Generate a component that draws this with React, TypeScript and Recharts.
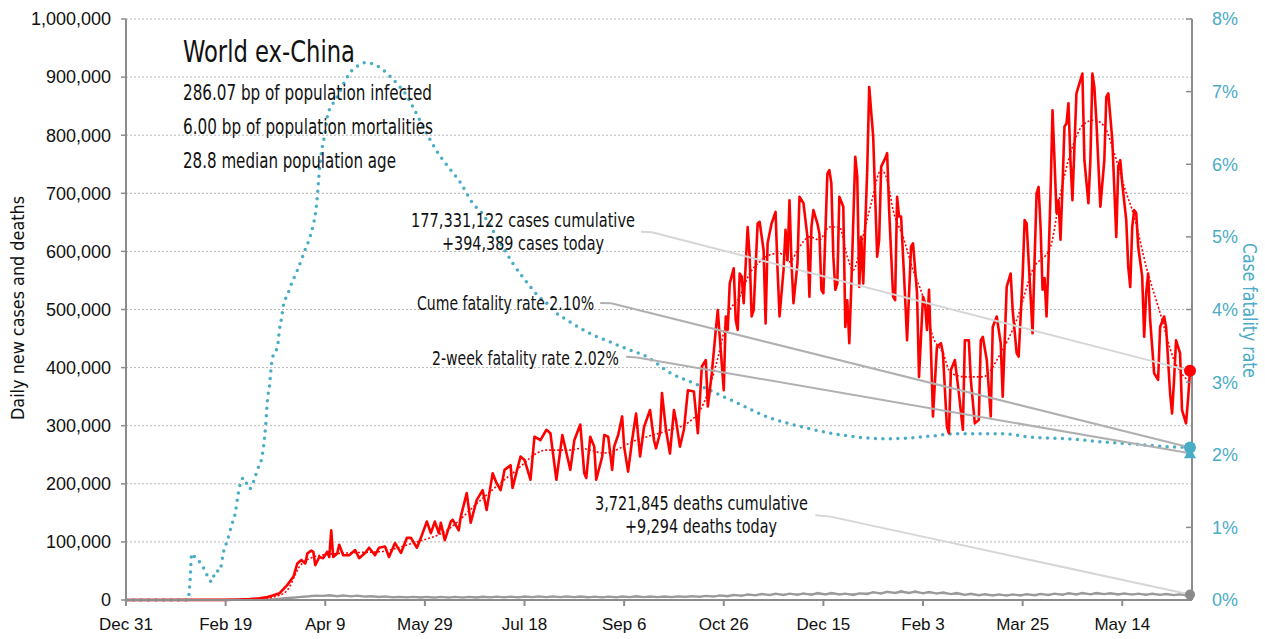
import React from 'react';
import {
  ComposedChart,
  Line,
  Scatter,
  XAxis,
  YAxis,
  CartesianGrid,
  ReferenceLine,
  ReferenceDot,
} from 'recharts';

// day 0 = Dec 31 2019; cases/deaths in thousands, fatality rate in %
const xTickDays = [0, 50, 100, 150, 200, 250, 300, 350, 400, 450, 500];
const xTickLabels = ['Dec 31', 'Feb 19', 'Apr 9', 'May 29', 'Jul 18', 'Sep 6', 'Oct 26', 'Dec 15', 'Feb 3', 'Mar 25', 'May 14'];
const leftTicks = [0, 100, 200, 300, 400, 500, 600, 700, 800, 900, 1000];
const rightTicks = [0, 1, 2, 3, 4, 5, 6, 7, 8];

const lastDay = 534;
const casesToday = 394.389;
const deathsToday = 9.294;
const cumeRate = 2.1;
const twoWeekRate = 2.02;

const dailyCases: [number, number][] = [
  [0, 0], [50, 0.3], [57, 0.8], [62, 1.5], [67, 3], [71, 5], [74, 8], [77, 11.5], [81, 26], [84, 40], [86, 63], [88, 69],
  [90, 63], [91, 80], [93, 85], [94, 83], [95, 60], [97, 74], [99, 72], [101, 83], [102, 74], [103, 120], [104, 74],
  [106, 80], [107, 95], [109, 77], [112, 77], [115, 86], [117, 72], [120, 81], [122, 90], [125, 77], [127, 90], [130, 92],
  [132, 74], [135, 98], [138, 81], [141, 107], [143, 107], [146, 90], [148, 107], [151, 135], [153, 115], [155, 135],
  [157, 115], [158, 133], [160, 103], [163, 135], [164, 138], [167, 120], [168, 143], [171, 184], [173, 133], [176, 172],
  [179, 189], [181, 155], [184, 218], [186, 201], [188, 189], [190, 224], [193, 232], [194, 193], [198, 247], [200, 241],
  [203, 207], [205, 281], [208, 275], [211, 293], [213, 287], [216, 207], [219, 284], [223, 224], [225, 275], [228, 302],
  [230, 218], [231, 210], [233, 281], [235, 264], [236, 207], [239, 247], [240, 284], [242, 281], [244, 224], [245, 264],
  [247, 284], [249, 316], [250, 264], [252, 221], [254, 275], [256, 321], [258, 247], [260, 298], [263, 327], [265, 275],
  [266, 261], [268, 287], [269, 356], [271, 293], [273, 252], [275, 327], [276, 310], [278, 264], [280, 293], [282, 361],
  [285, 359], [287, 287], [289, 402], [291, 413], [292, 333], [294, 390], [296, 465], [297, 499], [300, 361], [301, 488],
  [302, 465], [303, 545], [305, 571], [306, 482], [307, 465], [308, 562], [309, 557], [310, 511], [312, 642], [313, 591],
  [314, 488], [315, 499], [317, 648], [318, 651], [320, 602], [321, 476], [322, 614], [324, 648], [326, 668], [327, 568],
  [328, 488], [330, 568], [331, 637], [332, 585], [333, 688], [334, 580], [335, 511], [337, 580], [338, 694], [340, 683],
  [342, 625], [343, 522], [344, 642], [345, 671], [347, 648], [348, 631], [349, 534], [350, 528], [352, 734], [353, 740],
  [354, 717], [355, 591], [356, 534], [357, 545], [358, 694], [360, 677], [361, 470], [362, 516], [363, 442], [364, 539],
  [366, 763], [367, 729], [368, 539], [369, 625], [370, 545], [372, 740], [373, 883], [375, 797], [377, 591], [378, 620],
  [379, 746], [381, 760], [382, 769], [383, 671], [385, 522], [386, 516], [387, 694], [388, 660], [389, 660], [390, 591],
  [391, 522], [392, 447], [394, 608], [395, 614], [397, 528], [398, 384], [399, 453], [400, 522], [401, 511], [402, 465],
  [403, 534], [404, 430], [405, 316], [407, 436], [409, 442], [410, 425], [412, 298], [413, 287], [414, 396], [416, 413],
  [418, 356], [420, 293], [421, 447], [423, 447], [424, 379], [426, 304], [428, 310], [429, 447], [430, 453], [432, 413],
  [434, 316], [435, 470], [437, 488], [439, 442], [440, 350], [442, 539], [444, 562], [445, 499], [447, 425], [448, 419],
  [450, 557], [451, 654], [452, 648], [453, 585], [455, 459], [456, 585], [457, 700], [458, 711], [459, 642], [460, 534],
  [461, 554], [462, 488], [463, 585], [464, 700], [465, 843], [466, 757], [467, 666], [468, 688], [469, 620], [470, 711],
  [471, 815], [472, 820], [473, 855], [474, 757], [475, 688], [476, 780], [477, 872], [479, 895], [480, 906], [481, 757],
  [483, 683], [484, 757], [485, 906], [486, 883], [487, 826], [489, 677], [491, 757], [492, 866], [493, 872], [495, 792],
  [497, 625], [498, 746], [499, 757], [500, 717], [502, 654], [503, 574], [504, 539], [505, 642], [506, 671], [507, 666],
  [508, 608], [510, 557], [511, 453], [512, 528], [513, 562], [514, 482], [516, 390], [518, 379], [519, 470], [521, 488],
  [522, 470], [524, 356], [525, 321], [526, 379], [527, 447], [529, 425], [530, 327], [532, 304], [533, 345],
  [lastDay, casesToday],
];

const avgCases: [number, number][] = [
  [0, 0], [60, 0.5], [70, 3], [77, 8], [81, 17], [87, 57], [94, 74], [100, 78], [111, 81], [127, 83], [144, 98],
  [161, 120], [178, 172], [194, 218], [211, 258], [223, 258], [228, 261], [240, 253], [256, 275], [273, 293], [282, 305],
  [290, 339], [298, 430], [302, 490], [308, 522], [313, 562], [318, 582], [323, 594], [328, 597], [333, 582], [338, 608],
  [343, 625], [348, 620], [353, 642], [358, 642], [362, 591], [365, 568], [369, 614], [374, 683], [379, 740], [382, 723],
  [385, 671], [390, 625], [395, 568], [400, 522], [405, 453], [410, 425], [414, 390], [422, 384], [430, 384], [439, 425],
  [447, 482], [455, 568], [464, 608], [469, 700], [474, 769], [481, 820], [486, 826], [491, 815], [496, 769], [501, 711],
  [506, 660], [512, 574], [519, 494], [526, 413], [lastDay, 375],
];

const dailyDeaths: [number, number][] = [
  [0, 0], [60, 0.1], [65, 0.3], [70, 0.8], [75, 1.6], [80, 3], [85, 4.5], [88, 5.5], [92, 6.5], [95, 7.5], [99, 7],
  [102, 8.5], [106, 6.5], [109, 7.8], [113, 6.2], [116, 7.5], [120, 5.8], [123, 6.8], [127, 5.2], [130, 6.2], [134, 4.6],
  [137, 5.5], [141, 4.4], [144, 5.3], [148, 4.3], [151, 5.2], [155, 4.2], [158, 5.3], [162, 4.2], [165, 5.4], [169, 4.2],
  [172, 5.5], [176, 4.3], [179, 5.6], [183, 4.4], [186, 5.7], [190, 4.5], [193, 5.8], [197, 4.6], [200, 6], [204, 4.8],
  [207, 6.2], [211, 5], [214, 6.3], [218, 4.9], [221, 6.2], [225, 4.8], [228, 6], [232, 4.7], [235, 5.8], [239, 4.6],
  [242, 5.8], [246, 4.7], [249, 6], [253, 5], [256, 6.4], [260, 5], [263, 6], [267, 4.8], [270, 6], [274, 5], [277, 6.2],
  [281, 5.3], [284, 6.6], [288, 5.5], [291, 7], [295, 5.8], [298, 7.8], [302, 6.5], [305, 8.8], [309, 7.2], [312, 9.8],
  [316, 8], [319, 10.5], [323, 8.5], [326, 10.8], [330, 8.5], [333, 11], [337, 8.8], [340, 11.5], [344, 9], [347, 12],
  [351, 9.5], [354, 12.2], [358, 9.5], [361, 11], [365, 8.5], [368, 11.5], [372, 10], [375, 13.5], [379, 11], [382, 14.5],
  [386, 12], [389, 15], [393, 12], [396, 14.8], [400, 11.5], [403, 14], [407, 11], [410, 13], [414, 10], [417, 12],
  [421, 9], [424, 10.8], [428, 8.2], [431, 10], [435, 7.8], [438, 9.5], [442, 7.5], [445, 9.5], [449, 7.8], [452, 10],
  [456, 8], [459, 10.5], [463, 8.5], [466, 11], [470, 9], [473, 11.8], [477, 9.5], [480, 12.2], [484, 9.8], [487, 12],
  [491, 10], [494, 11.8], [498, 9.5], [501, 11.5], [505, 9.2], [508, 11], [512, 9], [515, 10.8], [519, 8.8], [522, 10.5],
  [526, 8.5], [529, 10.2], [532, 8.2], [lastDay, deathsToday],
];

const avgDeaths: [number, number][] = [
  [0, 0], [60, 0], [70, 0.5], [80, 2.5], [90, 5.5], [100, 7.2], [110, 6.8], [120, 6], [135, 5], [150, 4.7], [170, 4.8],
  [190, 5.1], [210, 5.5], [230, 5.3], [250, 5.3], [270, 5.6], [285, 6], [300, 7.5], [315, 9], [330, 9.8], [345, 10.6],
  [360, 10], [375, 12.5], [390, 13.5], [405, 12], [420, 9.5], [435, 8.6], [450, 9], [465, 10], [480, 10.8], [495, 10.5],
  [510, 9.8], [525, 9.2], [lastDay, 8.8],
];

const cumeFatality: [number, number][] = [
  [0, 0], [31, 0], [32, 0.2], [33, 0.64], [35, 0.57], [38, 0.49], [40, 0.38], [43, 0.25], [45, 0.4], [47, 0.4], [49, 0.67],
  [51, 0.83], [53, 1.03], [55, 1.22], [56, 1.41], [58, 1.65], [59, 1.68], [62, 1.53], [64, 1.63], [66, 1.8], [68, 1.94],
  [70, 2.37], [71, 2.76], [72, 2.95], [73, 3.24], [74, 3.38], [76, 3.48], [77, 3.72], [78, 3.87], [79, 4.06], [81, 4.2],
  [83, 4.35], [86, 4.54], [88, 4.68], [90, 4.83], [92, 4.97], [94, 5.17], [95, 5.31], [96, 5.55], [97, 5.9], [98, 6.15],
  [100, 6.45], [101, 6.65], [103, 6.8], [105, 6.88], [107, 6.98], [110, 7.15], [113, 7.28], [116, 7.35], [120, 7.4],
  [124, 7.38], [128, 7.32], [131, 7.25], [134, 7.17], [137, 7.08], [140, 6.98], [144, 6.79], [147, 6.63], [150, 6.47],
  [153, 6.32], [156, 6.18], [159, 6.06], [163, 5.92], [168, 5.74], [171, 5.6], [174, 5.46], [178, 5.35], [182, 5.19],
  [186, 5], [190, 4.82], [194, 4.64], [199, 4.45], [203, 4.31], [207, 4.18], [211, 4.09], [216, 3.95], [221, 3.86],
  [228, 3.74], [236, 3.63], [245, 3.53], [253, 3.44], [260, 3.37], [273, 3.13], [288, 2.95], [307, 2.71], [323, 2.51],
  [340, 2.38], [353, 2.3], [362, 2.26], [372, 2.23], [382, 2.22], [392, 2.23], [405, 2.26], [417, 2.29], [439, 2.29],
  [455, 2.24], [472, 2.22], [489, 2.18], [505, 2.15], [523, 2.11], [lastDay, cumeRate],
];

// where each callout leader line leaves its text (day, axis value)
const casesLeader = [{ x: 258.5, y: 634 }, { x: 264, y: 633 }];
const cumeLeader = [{ x: 238, y: 4.09 }, { x: 243.5, y: 4.085 }];
const twoWeekLeader = [{ x: 251, y: 3.35 }, { x: 256.5, y: 3.34 }];
const deathsLeader = [{ x: 346, y: 146 }, { x: 353.5, y: 143.5 }];

const rows = (pairs: [number, number][]) => pairs.map(([day, v]) => ({ day, v }));

const RED = '#ff0000';
const TEAL = '#4bacc6';
const AXIS = '#8c8c8c';
const NARROW = "'Liberation Sans Narrow', 'DejaVu Sans Condensed', 'Roboto', sans-serif";
const TICK_FONT = "'Liberation Sans', Arial, sans-serif";

const Triangle = (props: any) => {
  const { cx, cy } = props;
  if (cx == null || cy == null) return null;
  return <polygon points={`${cx},${cy - 6} ${cx - 6},${cy + 5} ${cx + 6},${cy + 5}`} fill={TEAL} />;
};

export default function App() {
  return (
    <div style={{ position: 'absolute', left: 0, top: 0, width: 1265, height: 639, background: '#fff' }}>
      <ComposedChart width={1265} height={639} margin={{ top: 19, right: 0, bottom: 0, left: 10 }}>
        <CartesianGrid yAxisId="left" vertical={false} stroke="#b5b5b5" strokeDasharray="2 2" />
        <XAxis
          dataKey="day"
          type="number"
          domain={[0, 535]}
          ticks={xTickDays}
          tickFormatter={(d: number) => xTickLabels[xTickDays.indexOf(d)]}
          height={39}
          tickSize={6}
          tickMargin={12}
          axisLine={{ stroke: AXIS, strokeWidth: 2 }}
          tickLine={{ stroke: AXIS, strokeWidth: 2 }}
          tick={{ fill: '#111', fontSize: 17, fontFamily: TICK_FONT }}
          allowDuplicatedCategory={false}
        />
        <YAxis
          yAxisId="left"
          domain={[0, 1000]}
          ticks={leftTicks}
          width={116}
          tickSize={5}
          tickMargin={10}
          tickFormatter={(v: number) => (v * 1000).toLocaleString('en-US')}
          axisLine={{ stroke: AXIS, strokeWidth: 2 }}
          tickLine={{ stroke: AXIS, strokeWidth: 1.5 }}
          tick={{ fill: '#111', fontSize: 18, fontFamily: TICK_FONT }}
        />
        <YAxis
          yAxisId="right"
          orientation="right"
          domain={[0, 8]}
          ticks={rightTicks}
          width={73}
          tickSize={-6}
          tickMargin={26}
          tickFormatter={(v: number) => `${v}%`}
          axisLine={{ stroke: AXIS, strokeWidth: 2 }}
          tickLine={{ stroke: AXIS, strokeWidth: 1.5 }}
          tick={{ fill: TEAL, fontSize: 18, fontFamily: TICK_FONT, textAnchor: 'start' }}
        />

        <Line yAxisId="left" data={rows(avgDeaths)} dataKey="v" stroke="#b3b3b3" strokeWidth={1.5} dot={false} isAnimationActive={false} />
        <Line yAxisId="left" data={rows(dailyDeaths)} dataKey="v" stroke="#9a9a9a" strokeWidth={2.3} dot={false} isAnimationActive={false} />
        <Line yAxisId="right" data={rows(cumeFatality)} dataKey="v" type="monotone" stroke={TEAL} strokeWidth={3.5}
          strokeDasharray="0 7.5" strokeLinecap="round" dot={false} isAnimationActive={false} />
        <Line yAxisId="left" data={rows(avgCases)} dataKey="v" type="monotone" stroke={RED} strokeWidth={1.6}
          strokeDasharray="2 2" dot={false} isAnimationActive={false} />
        <Line yAxisId="left" data={rows(dailyCases)} dataKey="v" stroke={RED} strokeWidth={2.6} strokeLinejoin="round"
          dot={false} isAnimationActive={false} />

        <ReferenceLine yAxisId="left" segment={casesLeader} stroke="#d6d6d6" strokeWidth={2} />
        <ReferenceLine yAxisId="left" segment={[casesLeader[1], { x: lastDay, y: casesToday }]} stroke="#d6d6d6" strokeWidth={2} />
        <ReferenceLine yAxisId="right" segment={cumeLeader} stroke="#b0b0b0" strokeWidth={2} />
        <ReferenceLine yAxisId="right" segment={[cumeLeader[1], { x: lastDay, y: cumeRate }]} stroke="#b0b0b0" strokeWidth={2} />
        <ReferenceLine yAxisId="right" segment={twoWeekLeader} stroke="#b0b0b0" strokeWidth={2} />
        <ReferenceLine yAxisId="right" segment={[twoWeekLeader[1], { x: lastDay, y: twoWeekRate }]} stroke="#b0b0b0" strokeWidth={2} />
        <ReferenceLine yAxisId="left" segment={deathsLeader} stroke="#d6d6d6" strokeWidth={2} />
        <ReferenceLine yAxisId="left" segment={[deathsLeader[1], { x: lastDay, y: deathsToday }]} stroke="#d6d6d6" strokeWidth={2} />

        <Scatter yAxisId="right" data={[{ day: lastDay, v: twoWeekRate }]} dataKey="v" shape={Triangle} isAnimationActive={false} />
        <ReferenceDot yAxisId="right" x={lastDay} y={cumeRate} r={6} fill={TEAL} stroke="none" />
        <ReferenceDot yAxisId="left" x={lastDay} y={casesToday} r={6} fill={RED} stroke="none" />
        <ReferenceDot yAxisId="left" x={lastDay} y={deathsToday} r={5} fill="#8a8a8a" stroke="none" />
      </ComposedChart>

      <svg width={1265} height={639} style={{ position: 'absolute', left: 0, top: 0, pointerEvents: 'none' }}>
        <g fontFamily={NARROW} fill="#111">
          <text x={183} y={62} fontSize={31} textLength={172} lengthAdjust="spacingAndGlyphs">World ex-China</text>
          <text x={183} y={100} fontSize={22} textLength={249} lengthAdjust="spacingAndGlyphs">286.07 bp of population infected</text>
          <text x={183} y={134} fontSize={22} textLength={250} lengthAdjust="spacingAndGlyphs">6.00 bp of population mortalities</text>
          <text x={183} y={168} fontSize={22} textLength={213} lengthAdjust="spacingAndGlyphs">28.8 median population age</text>

          <text x={411} y={227} fontSize={19} textLength={224} lengthAdjust="spacingAndGlyphs">177,331,122 cases cumulative</text>
          <text x={442} y={250} fontSize={19} textLength={162} lengthAdjust="spacingAndGlyphs">+394,389 cases today</text>
          <text x={417} y={310} fontSize={19} textLength={177} lengthAdjust="spacingAndGlyphs">Cume fatality rate 2.10%</text>
          <text x={432} y={365} fontSize={19} textLength={187} lengthAdjust="spacingAndGlyphs">2-week fatality rate 2.02%</text>
          <text x={595} y={510} fontSize={19} textLength={213} lengthAdjust="spacingAndGlyphs">3,721,845 deaths cumulative</text>
          <text x={625} y={533} fontSize={19} textLength={152} lengthAdjust="spacingAndGlyphs">+9,294 deaths today</text>

          <text transform="translate(24,420) rotate(-90)" fontSize={18} textLength={224} lengthAdjust="spacingAndGlyphs">
            Daily new cases and deaths
          </text>
          <text transform="translate(1243,243) rotate(90)" fontSize={19} fill={TEAL} textLength={135} lengthAdjust="spacingAndGlyphs">
            Case fatality rate
          </text>
        </g>
      </svg>
    </div>
  );
}
